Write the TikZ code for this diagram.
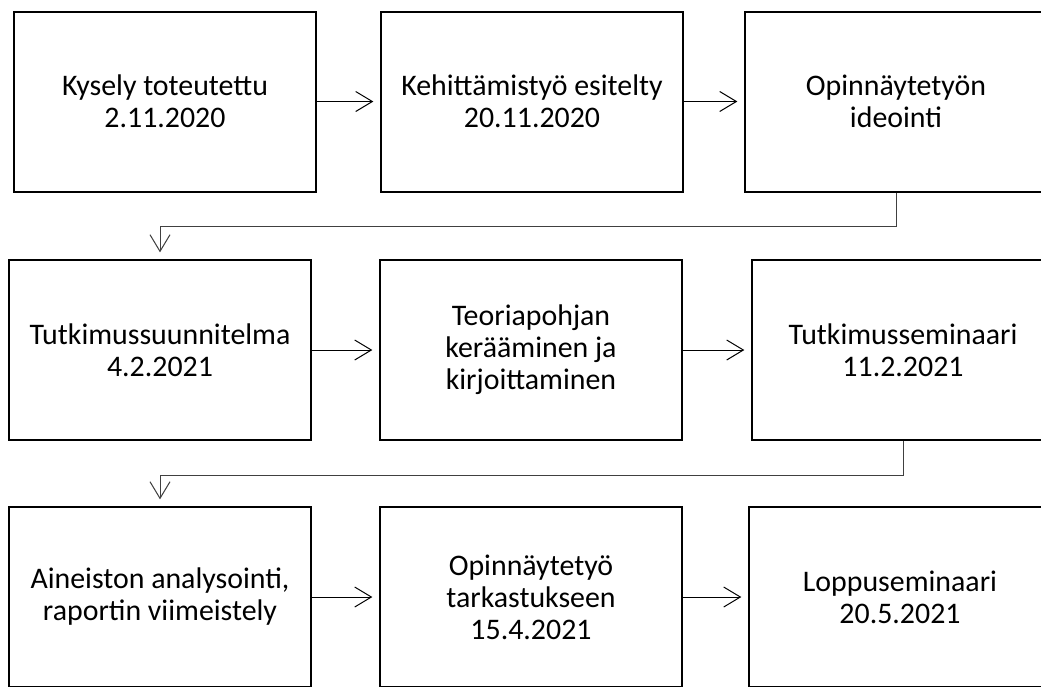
\documentclass[tikz,border=0pt]{standalone}
\usepackage{fontspec}
\setmainfont{Carlito}
\usepackage{xcolor}
\usepackage{tikz}
\usetikzlibrary{arrows.meta}
\definecolor{linkgray}{RGB}{64, 64, 64}

\tikzset{
  box/.style={draw, line width=1.5pt, minimum width=226.5pt, minimum height=135pt,
    align=center, font=\fontsize{22.4pt}{24pt}\selectfont},
  link/.style={-{Straight Barb[length=12.5pt,width=15pt]}, line width=0.75pt, shorten >=5pt}
}

\begin{document}
\begin{tikzpicture}[x=0.75pt,y=-0.75pt]
  \clip (0,0) rectangle (1041,686);
  % first row
  \node[box] (kysely) at (165,101.5) {Kysely toteutettu\\2.11.2020};
  \node[box] (kehitys) at (532,101.5) {Kehittämistyö esitelty\\20.11.2020};
  \node[box] (ideointi) at (896,101.5) {Opinnäytetyön\\ideointi};
  % second row
  \node[box] (suunnitelma) at (160,350) {Tutkimussuunnitelma\\4.2.2021};
  \node[box] (teoria) at (531,350) {Teoriapohjan\\kerääminen ja\\kirjoittaminen};
  \node[box] (seminaari) at (903,350) {Tutkimusseminaari\\11.2.2021};
  % third row
  \node[box] (aineisto) at (160,597) {Aineiston analysointi,\\raportin viimeistely};
  \node[box] (tarkastus) at (531,597) {Opinnäytetyö\\tarkastukseen\\15.4.2021};
  \node[box] (loppu) at (900,597) {Loppuseminaari\\20.5.2021};
  \path[link]
    (kysely) edge (kehitys)
    (kehitys) edge (ideointi)
    (suunnitelma) edge (teoria)
    (teoria) edge (seminaari)
    (aineisto) edge (tarkastus)
    (tarkastus) edge (loppu);
  \draw[link, linkgray] (ideointi.south) -- ++(0,34) -| (suunnitelma.north);
  \draw[link, linkgray] (seminaari.south) -- ++(0,34) -| (aineisto.north);
\end{tikzpicture}
\end{document}
